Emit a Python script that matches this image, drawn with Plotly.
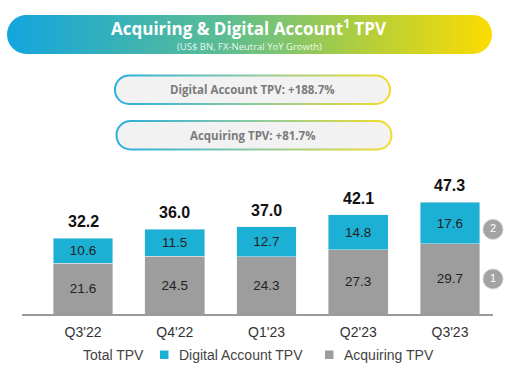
import base64
import plotly.graph_objects as go

# ---------------- data ----------------
quarters = ["Q3'22", "Q4'22", "Q1'23", "Q2'23", "Q3'23"]
acquiring_tpv = [21.6, 24.5, 24.3, 27.3, 29.7]
digital_tpv = [10.6, 11.5, 12.7, 14.8, 17.6]
total_tpv = [32.2, 36.0, 37.0, 42.1, 47.3]
title_text = "Acquiring & Digital Account<sup>1</sup> TPV"
subtitle_text = "(US$ BN, FX-Neutral YoY Growth)"
growth_labels = ["Digital Account TPV: +188.7%", "Acquiring TPV: +81.7%"]
legend_labels = ["Total TPV", "Digital Account TPV", "Acquiring TPV"]
badge_labels = ["1", "2"]

# ---------------- layout constants ----------------
W, H = 518, 379
ML, MR, MT, MB = 22, 25, 170, 65
PW, PH = W - ML - MR, H - MT - MB
CYAN = "#1cb0d4"
GRAY = "#9d9d9d"
FONT = "Liberation Sans, Arial, sans-serif"
HFONT = "Open Sans, sans-serif"


def px(x):
    return (x - ML) / PW


def py(y):
    return (H - MB - y) / PH


# background decoration (gradient pills) as an SVG image
svg = f'''<svg xmlns="http://www.w3.org/2000/svg" width="{W}" height="{H}" viewBox="0 0 {W} {H}">
<defs>
<linearGradient id="hdr" x1="0" y1="0" x2="1" y2="0">
<stop offset="0" stop-color="#12a5df"/>
<stop offset="0.45" stop-color="#5cbd92"/>
<stop offset="0.7" stop-color="#a8cc45"/>
<stop offset="1" stop-color="#fcdc00"/>
</linearGradient>
<linearGradient id="brd" x1="0" y1="0" x2="1" y2="0">
<stop offset="0" stop-color="#2aaee0"/>
<stop offset="0.5" stop-color="#8ccaa0"/>
<stop offset="1" stop-color="#f2dc2a"/>
</linearGradient>
</defs>
<rect x="7" y="15" width="485" height="39" rx="19.5" fill="url(#hdr)"/>
<rect x="115" y="75.5" width="275" height="28.5" rx="14" fill="#f2f2f2" stroke="url(#brd)" stroke-width="2"/>
<rect x="116.5" y="121" width="275" height="28.5" rx="14" fill="#f2f2f2" stroke="url(#brd)" stroke-width="2"/>
</svg>'''
svg_uri = "data:image/svg+xml;base64," + base64.b64encode(svg.encode()).decode()

xs = list(range(len(quarters)))

fig = go.Figure()
fig.add_trace(go.Bar(
    x=xs, y=acquiring_tpv, name=legend_labels[2], marker_color=GRAY, width=0.65,
    text=[f"{v:.1f}" for v in acquiring_tpv], textposition="inside",
    insidetextanchor="middle", constraintext="none",
    textfont=dict(family=FONT, size=13.5, color="#222222"), showlegend=False,
))
fig.add_trace(go.Bar(
    x=xs, y=digital_tpv, name=legend_labels[1], marker_color=CYAN, width=0.65,
    text=[f"{v:.1f}" for v in digital_tpv], textposition="inside",
    insidetextanchor="middle", constraintext="none",
    textfont=dict(family=FONT, size=13.5, color="#222222"), showlegend=False,
))

# badges at the right end of the axis
x_end = 4.469
fig.add_trace(go.Scatter(
    x=[x_end, x_end],
    y=[acquiring_tpv[-1] / 2, acquiring_tpv[-1] + digital_tpv[-1] * 0.35],
    mode="markers+text", text=badge_labels, textposition="middle center",
    marker=dict(size=20, color="#a3a3a3", line=dict(color="#cfcfcf", width=1)),
    textfont=dict(family=FONT, size=11, color="white"),
    cliponaxis=False, showlegend=False, hoverinfo="skip",
))

annotations = []
for x, t in zip(xs, total_tpv):
    annotations.append(dict(
        x=x, y=t, xref="x", yref="y", text=f"<b>{t:.1f}</b>", showarrow=False,
        yanchor="middle", yshift=16.5,
        font=dict(family=FONT, size=16, color="#111111"),
    ))

# header texts
annotations.append(dict(x=px(249), y=py(27.5), xref="paper", yref="paper",
                        text=f"<b>{title_text}</b>", showarrow=False,
                        xanchor="center", yanchor="middle",
                        font=dict(family=HFONT, size=17, color="white")))
annotations.append(dict(x=px(249), y=py(46), xref="paper", yref="paper",
                        text=subtitle_text, showarrow=False,
                        xanchor="center", yanchor="middle",
                        font=dict(family=HFONT, size=9.5, color="rgba(255,255,255,0.9)")))
for txt, cy in zip(growth_labels, [89.5, 135]):
    annotations.append(dict(x=px(252.5), y=py(cy), xref="paper", yref="paper",
                            text=f"<b>{txt}</b>", showarrow=False,
                            xanchor="center", yanchor="middle",
                            font=dict(family=HFONT, size=11.5, color="#7b7b7b")))

# legend
leg_y = 355
for txt, lx in zip(legend_labels, [81, 177, 342]):
    annotations.append(dict(x=px(lx), y=py(leg_y), xref="paper", yref="paper",
                            text=txt, showarrow=False, xanchor="left", yanchor="middle",
                            font=dict(family=FONT, size=14, color="#444444")))
shapes = []
for col, sx in zip([CYAN, GRAY], [160, 325]):
    shapes.append(dict(type="rect", xref="paper", yref="paper",
                       x0=px(sx), x1=px(sx + 8.5), y0=py(leg_y - 4.5), y1=py(leg_y + 4),
                       fillcolor=col, line=dict(width=0)))

fig.update_layout(
    width=W, height=H,
    margin=dict(l=ML, r=MR, t=MT, b=MB),
    barmode="stack",
    paper_bgcolor="white", plot_bgcolor="rgba(0,0,0,0)",
    showlegend=False,
    annotations=annotations, shapes=shapes,
    images=[dict(source=svg_uri, xref="paper", yref="paper",
                 x=px(0), y=py(0), sizex=W / PW, sizey=H / PH,
                 xanchor="left", yanchor="top", sizing="stretch", layer="below")],
    xaxis=dict(range=[-0.665, x_end], tickvals=xs, ticktext=quarters,
               showgrid=False, zeroline=False, showline=True,
               linecolor="#9a9a9a", linewidth=1.5,
               ticks="outside", ticklen=4, tickcolor="rgba(0,0,0,0)",
               tickfont=dict(family=FONT, size=14, color="#333333"), fixedrange=True),
    yaxis=dict(range=[0, PH / 2.36], visible=False, showgrid=False, zeroline=False,
               fixedrange=True),
)

fig.write_html("out.html", config={"displayModeBar": False},
               post_script="document.body.style.margin='0';")
